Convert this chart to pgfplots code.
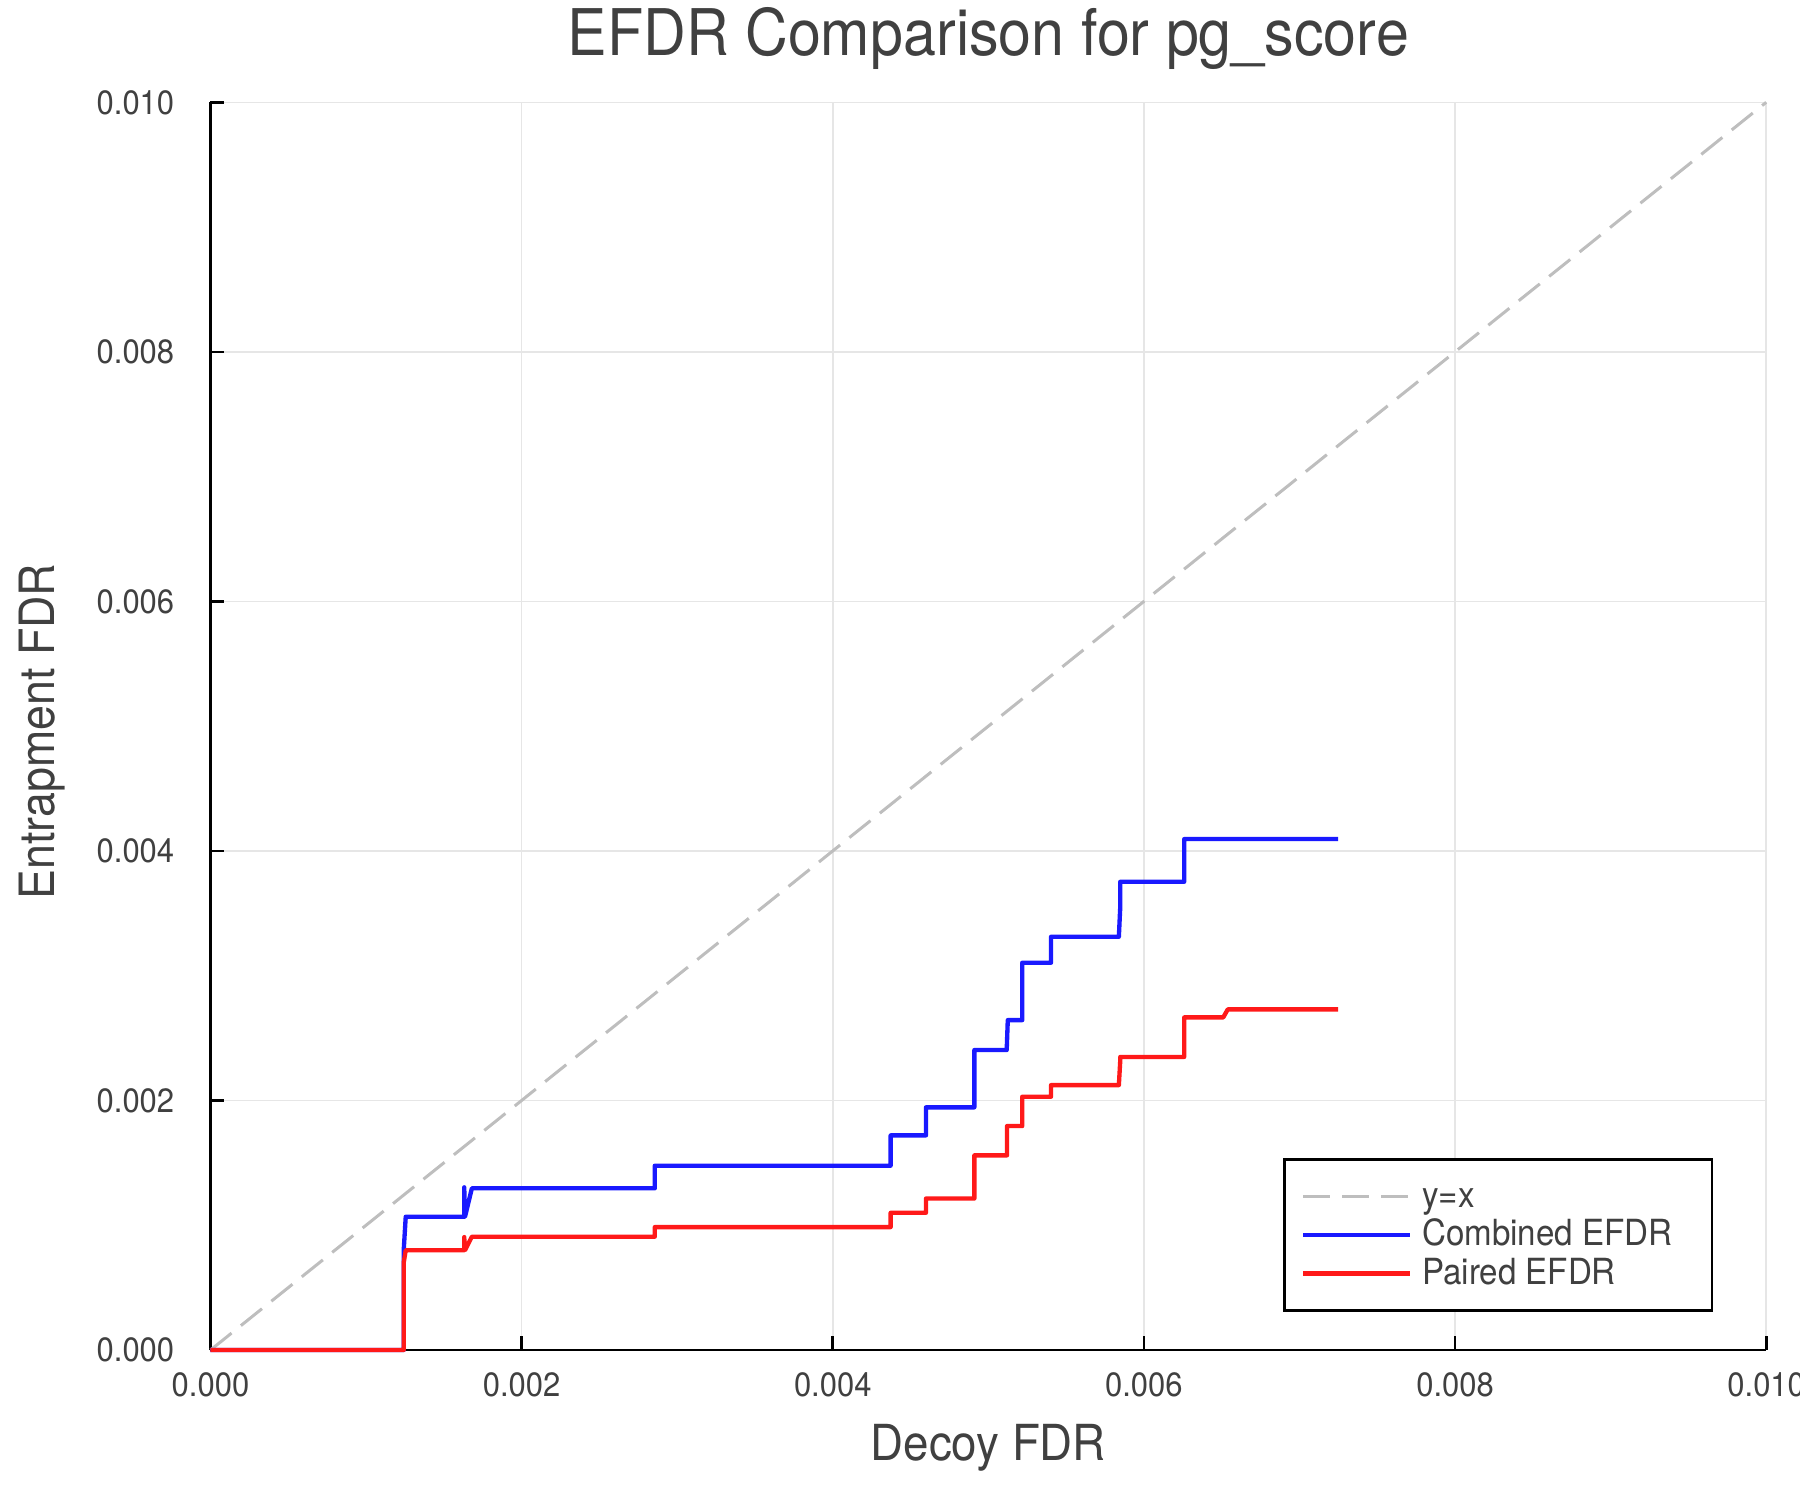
\documentclass[border=0pt]{standalone}
\usepackage{fontspec}
\setmainfont{TeX Gyre Heros}[FakeStretch=0.92]
\usepackage{pgfplots}
\pgfplotsset{compat=1.18}
\definecolor{txt}{RGB}{64,64,64}
\definecolor{gridc}{RGB}{230,230,230}
\definecolor{cblue}{RGB}{25,25,255}
\definecolor{cred}{RGB}{255,25,25}
\definecolor{dgray}{RGB}{190,190,190}
\begin{document}
\begin{tikzpicture}
\useasboundingbox (-63.15pt,-45pt) rectangle (476.85pt,405pt);
\begin{axis}[
  at={(0,0)}, anchor=south west,
  scale only axis, width=466.7pt, height=374.3pt,
  xmin=0, xmax=10, ymin=0, ymax=10,
  axis lines=left,
  axis line style={-, black, line width=0.8pt},
  xtick={0,2,4,6,8,10},
  xticklabels={0.000,0.002,0.004,0.006,0.008,0.010},
  ytick={0,2,4,6,8,10},
  yticklabels={0.000,0.002,0.004,0.006,0.008,0.010},
  tick align=inside,
  major tick length=4.2pt,
  tick style={black, line width=0.8pt},
  grid=major,
  major grid style={gridc, line width=0.45pt},
  ticklabel style={font=\fontsize{10.1}{12}\selectfont, text=txt},
  xticklabel style={anchor=center, yshift=-10.5pt},
  yticklabel style={anchor=east, inner xsep=0pt, xshift=-10.7pt},
  every axis title shift=0pt,
  title={EFDR Comparison for pg\_score},
  title style={at={(axis description cs:0.5,1.0379)}, anchor=base,
    font=\fontsize{19.3}{22}\selectfont, text=txt},
  xlabel={Decoy FDR},
  xlabel style={at={(axis description cs:0.5,-0.0882)}, anchor=base,
    font=\fontsize{14.9}{17}\selectfont, text=txt},
  ylabel={Entrapment FDR},
  ylabel style={at={(axis description cs:-0.09996,0.4957)}, anchor=base, rotate=0,
    font=\fontsize{14.6}{17}\selectfont, text=txt},
  clip=false,
  legend image code/.code={\draw[#1] (0pt,0pt) -- (32pt,0pt);},
  legend style={at={(0.9661,0.0308)}, anchor=south east,
    draw=black, line width=0.8pt, fill=white,
    font=\fontsize{10.8}{12}\selectfont, text=txt,
    inner xsep=5pt, inner ysep=6.15pt, row sep=1.8pt,
    nodes={inner xsep=3pt, inner ysep=0pt, text height=8.2pt, text depth=1.6pt},
    cells={anchor=west}},
]
\addplot[dgray, line width=0.9pt, dash pattern=on 8.1pt off 3.6pt]
  coordinates {(0,0) (10,10)};
\addlegendentry{\makebox[79pt][l]{y=x}}

\addplot[cblue, line width=1.3pt, line join=round]
  coordinates {
  (0,0) (1.242,0) (1.242,0.80) (1.255,1.068) (1.631,1.068) (1.631,1.304)
  (1.636,1.068) (1.680,1.296) (2.856,1.296) (2.856,1.477) (4.372,1.477)
  (4.372,1.720) (4.599,1.720) (4.599,1.945) (4.910,1.945) (4.910,2.404)
  (5.118,2.404) (5.125,2.644) (5.218,2.644) (5.218,3.104) (5.403,3.104)
  (5.403,3.312) (5.839,3.312) (5.848,3.552) (5.848,3.753) (6.259,3.753)
  (6.259,4.095) (7.248,4.095)
  };
\addlegendentry{\makebox[79pt][l]{Combined EFDR}}

\addplot[cred, line width=1.3pt, line join=round]
  coordinates {
  (0,0) (1.242,0) (1.242,0.70) (1.255,0.80) (1.631,0.80) (1.631,0.905)
  (1.636,0.80) (1.680,0.908) (2.856,0.908) (2.856,0.985) (4.372,0.985)
  (4.372,1.100) (4.599,1.100) (4.599,1.214) (4.910,1.214) (4.910,1.560)
  (5.120,1.560) (5.120,1.795) (5.218,1.795) (5.218,2.030) (5.403,2.030)
  (5.403,2.123) (5.839,2.123) (5.848,2.320) (5.848,2.349) (6.259,2.349)
  (6.259,2.666) (6.510,2.666) (6.539,2.730) (7.248,2.730)
  };
\addlegendentry{\makebox[79pt][l]{Paired EFDR}}
\end{axis}
\end{tikzpicture}
\end{document}
